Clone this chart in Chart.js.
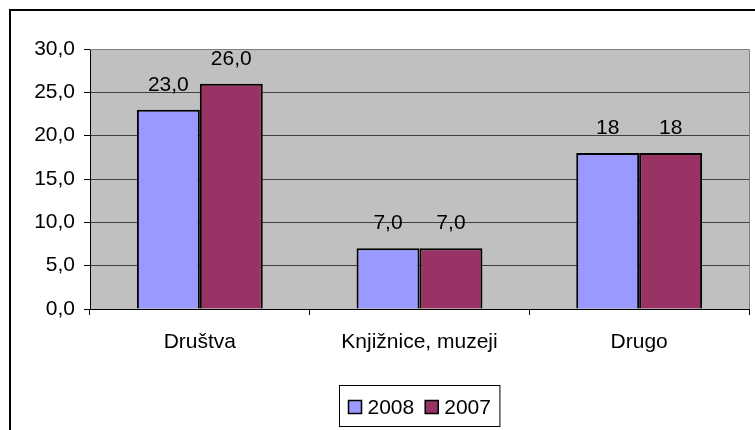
<!DOCTYPE html>
<html>
<head>
<meta charset="utf-8">
<script src="https://cdn.jsdelivr.net/npm/chart.js@4.4.0/dist/chart.umd.min.js"></script>
<style>
html,body{margin:0;padding:0;background:#fff;}
#c{display:block;}
</style>
</head>
<body>
<canvas id="c" width="755" height="430"></canvas>
<script>
const categories = ["Društva", "Knjižnice, muzeji", "Drugo"];
const seriesNames = ["2008", "2007"];
const values2008 = [23.0, 7.0, 18];
const values2007 = [26.0, 7.0, 18];
const labels2008 = ["23,0", "7,0", "18"];
const labels2007 = ["26,0", "7,0", "18"];
const yMin = 0, yMax = 30, yStep = 5;

const FONT = '"Liberation Sans", Arial, sans-serif';

const frame = {
  id: 'frame',
  beforeDraw(chart) {
    const {ctx, chartArea: a} = chart;
    ctx.save();
    ctx.fillStyle = '#fff';
    ctx.fillRect(0, 0, chart.width, chart.height);
    ctx.fillStyle = '#C0C0C0';
    ctx.fillRect(a.left, a.top, a.right - a.left, a.bottom - a.top);
    ctx.restore();
  },
  afterDraw(chart) {
    const {ctx, chartArea: a} = chart;
    ctx.save();
    // plot border (top/right) gray
    ctx.strokeStyle = '#808080';
    ctx.lineWidth = 1;
    ctx.beginPath();
    ctx.moveTo(a.left, a.top + 0.5);
    ctx.lineTo(a.right + 0.5, a.top + 0.5);
    ctx.lineTo(a.right + 0.5, a.bottom);
    ctx.stroke();
    // outer chart border
    ctx.strokeStyle = '#000';
    ctx.lineWidth = 2;
    ctx.strokeRect(10, 10, chart.width + 20, chart.height + 20);
    // legend
    const ds = chart.data.datasets;
    ctx.font = '21px ' + FONT;
    const sq = 13, gap1 = 6, gap2 = 11, padX = 9;
    let w = padX * 2;
    ds.forEach((d, i) => {
      w += sq + gap1 + ctx.measureText(d.label).width + (i < ds.length - 1 ? gap2 : 0);
    });
    const cx = (a.left + a.right) / 2;
    const bx = Math.round(cx - w / 2) + 0.5, by = 385.5, bh = 41;
    ctx.lineWidth = 1;
    ctx.strokeStyle = '#000';
    ctx.strokeRect(bx, by, w, bh);
    let x = bx + padX;
    const midY = by + bh / 2;
    ds.forEach((d, i) => {
      ctx.fillStyle = d.backgroundColor;
      ctx.fillRect(x, midY - sq / 2 + 1, sq, sq);
      ctx.lineWidth = 1.5;
      ctx.strokeRect(x, midY - sq / 2 + 1, sq, sq);
      x += sq + gap1;
      ctx.fillStyle = '#000';
      ctx.textBaseline = 'alphabetic';
      ctx.textAlign = 'left';
      ctx.fillText(d.label, x, midY + 8);
      x += ctx.measureText(d.label).width + gap2;
    });
    ctx.restore();
  },
  afterDatasetsDraw(chart) {
    const ctx = chart.ctx;
    ctx.save();
    ctx.font = '21px ' + FONT;
    ctx.fillStyle = '#000';
    ctx.textAlign = 'center';
    ctx.textBaseline = 'alphabetic';
    chart.data.datasets.forEach((d, di) => {
      const meta = chart.getDatasetMeta(di);
      meta.data.forEach((bar, i) => {
        ctx.fillText(d.valueLabels[i], bar.x, bar.y - 19);
      });
    });
    ctx.restore();
  }
};

new Chart(document.getElementById('c'), {
  type: 'bar',
  data: {
    labels: categories,
    datasets: [
      { label: seriesNames[0], data: values2008, valueLabels: labels2008,
        backgroundColor: '#9999FF', borderColor: '#000', borderWidth: 2,
        categoryPercentage: 0.573, barPercentage: 1.0 },
      { label: seriesNames[1], data: values2007, valueLabels: labels2007,
        backgroundColor: '#993366', borderColor: '#000', borderWidth: 2,
        categoryPercentage: 0.573, barPercentage: 1.0 }
    ]
  },
  options: {
    responsive: false,
    animation: false,
    layout: { padding: { left: 0, top: 49, right: 6, bottom: 0 } },
    plugins: { legend: { display: false }, tooltip: { enabled: false } },
    scales: {
      x: {
        offset: true,
        grid: { offset: true, drawOnChartArea: false, drawTicks: true, tickLength: 6, color: '#000' },
        border: { display: true, color: '#000', width: 1 },
        ticks: { color: '#000', font: { family: FONT, size: 21 }, padding: 15, maxRotation: 0 },
        afterFit(s) { s.height = 121; }
      },
      y: {
        min: yMin, max: yMax,
        grid: { color: '#404040', tickLength: 6, tickColor: '#000', drawTicks: true },
        border: { display: true, color: '#000', width: 1 },
        ticks: {
          stepSize: yStep, color: '#000', font: { family: FONT, size: 21 }, padding: 9,
          callback: v => v.toFixed(1).replace('.', ',')
        },
        afterFit(s) { s.width = 90; }
      }
    }
  },
  plugins: [frame]
});
</script>
</body>
</html>
